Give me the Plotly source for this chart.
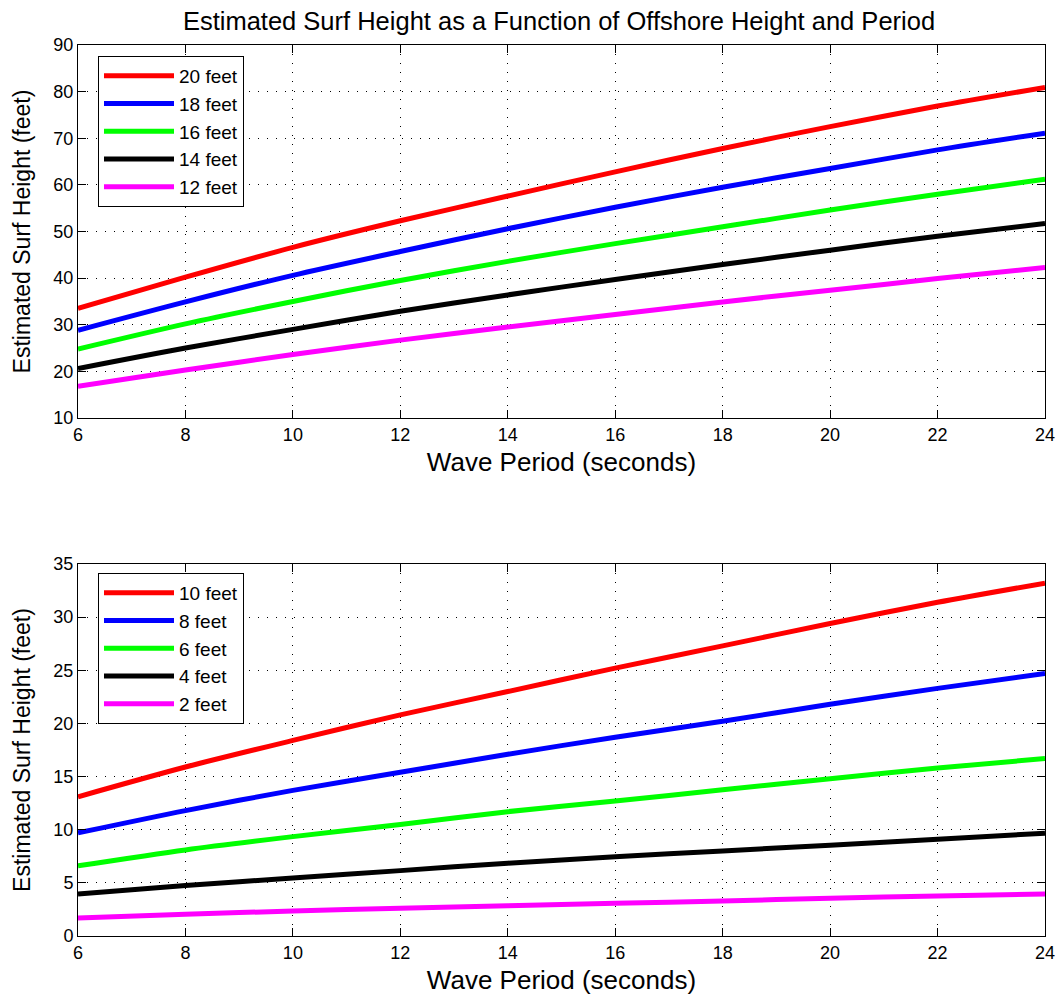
import plotly.graph_objects as go
from plotly.subplots import make_subplots

period = [6, 8, 10, 12, 14, 16, 18, 20, 22, 24]

# Top panel: offshore heights 20..12 feet
top_names = ["20 feet", "18 feet", "16 feet", "14 feet", "12 feet"]
top_20 = [33.5, 40.2, 46.6, 52.3, 57.6, 62.8, 67.8, 72.5, 76.9, 80.9]
top_18 = [28.8, 34.9, 40.6, 45.7, 50.6, 55.2, 59.5, 63.5, 67.5, 71.1]
top_16 = [24.8, 30.2, 35.0, 39.5, 43.6, 47.4, 51.0, 54.6, 58.0, 61.2]
top_14 = [20.6, 25.0, 29.0, 32.9, 36.4, 39.7, 42.9, 46.0, 49.0, 51.7]
top_12 = [16.8, 20.3, 23.6, 26.7, 29.5, 32.2, 34.9, 37.4, 39.9, 42.3]

# Bottom panel: offshore heights 10..2 feet
bot_names = ["10 feet", "8 feet", "6 feet", "4 feet", "2 feet"]
bot_10 = [13.1, 15.9, 18.4, 20.8, 23.0, 25.2, 27.3, 29.4, 31.4, 33.2]
bot_8 = [9.7, 11.8, 13.7, 15.4, 17.1, 18.7, 20.2, 21.8, 23.3, 24.7]
bot_6 = [6.6, 8.1, 9.35, 10.5, 11.7, 12.7, 13.75, 14.8, 15.8, 16.7]
bot_4 = [3.95, 4.75, 5.45, 6.15, 6.85, 7.45, 8.0, 8.55, 9.1, 9.67]
bot_2 = [1.7, 2.05, 2.35, 2.62, 2.85, 3.07, 3.3, 3.55, 3.77, 3.95]

colors = ["#FF0000", "#0000FF", "#00FF00", "#000000", "#FF00FF"]

x_ticks = [6, 8, 10, 12, 14, 16, 18, 20, 22, 24]
top_yticks = [10, 20, 30, 40, 50, 60, 70, 80, 90]
bot_yticks = [0, 5, 10, 15, 20, 25, 30, 35]

FONT = "Liberation Sans, Arial, Helvetica, sans-serif"

fig = make_subplots(rows=2, cols=1)

for name, ys, c in zip(top_names, [top_20, top_18, top_16, top_14, top_12], colors):
    fig.add_trace(go.Scatter(x=period, y=ys, mode="lines", name=name,
                             line=dict(color=c, width=5, shape="spline", smoothing=0.8),
                             legend="legend"),
                  row=1, col=1)
for name, ys, c in zip(bot_names, [bot_10, bot_8, bot_6, bot_4, bot_2], colors):
    fig.add_trace(go.Scatter(x=period, y=ys, mode="lines", name=name,
                             line=dict(color=c, width=5, shape="spline", smoothing=0.8),
                             legend="legend2"),
                  row=2, col=1)

W, H = 1056, 998
ml, mr, mt, mb = 78, 11, 45, 62
ph = H - mt - mb
pw = W - ml - mr
top_lo = (936 - 418) / ph
bot_hi = (936 - 564) / ph

axis_common = dict(
    showline=True, linecolor="black", linewidth=1, mirror="allticks",
    ticks="inside", ticklen=8, tickcolor="black", tickwidth=1,
    showgrid=True, gridcolor="black", griddash="1px,8px", gridwidth=1,
    zeroline=False, automargin=False, ticklabeloverflow="allow",
    tickfont=dict(size=18, color="black", family=FONT),
)

xtitle = dict(text="Wave Period (seconds)", font=dict(size=26, color="black", family=FONT), standoff=9)
fig.update_xaxes(range=[6, 24], tickvals=x_ticks, title=xtitle, **axis_common)
fig.update_yaxes(range=[10, 90], tickvals=top_yticks, domain=[top_lo, 1], row=1, col=1, **axis_common)
fig.update_yaxes(range=[0, 35], tickvals=bot_yticks, domain=[0, bot_hi], row=2, col=1, **axis_common)
fig.update_yaxes(title=dict(text="Estimated Surf Height (feet)",
                            font=dict(size=23, color="black", family=FONT), standoff=16))

legend_common = dict(
    bgcolor="white", bordercolor="black", borderwidth=1,
    font=dict(size=19, color="black", family=FONT),
    xanchor="left", yanchor="top", itemwidth=70, tracegroupgap=0,
)

fig.update_layout(
    width=W, height=H,
    margin=dict(l=ml, r=mr, t=mt, b=mb, autoexpand=False),
    paper_bgcolor="white", plot_bgcolor="white",
    font=dict(family=FONT, color="black"),
    title=dict(text="Estimated Surf Height as a Function of Offshore Height and Period",
               x=559 / W, xanchor="center", y=1 - 21 / H, yanchor="middle",
               font=dict(size=25.5, color="black", family=FONT)),
    legend=dict(x=20 / pw, y=(936 - 56) / ph, **legend_common),
    legend2=dict(x=20 / pw, y=(936 - 573) / ph, **legend_common),
    showlegend=True,
)

# remove the default page margin so the figure fills the window exactly
fig.write_html("out.html",
               config={"displayModeBar": False},
               post_script="document.body.style.margin='0';document.body.style.overflow='hidden';")
